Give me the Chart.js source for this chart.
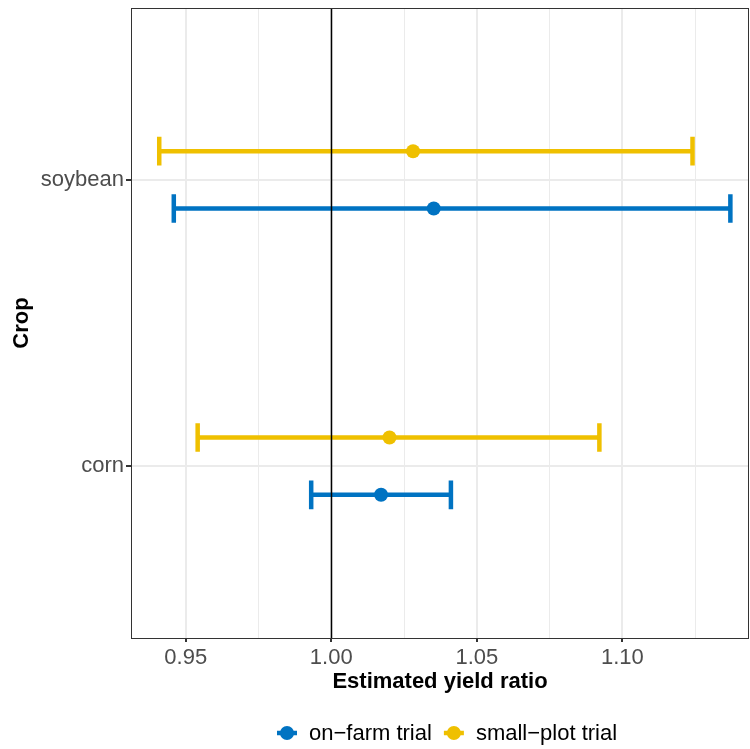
<!DOCTYPE html>
<html lang="en">
<head>
<meta charset="UTF-8" />
<title>Estimated yield ratio by crop</title>
<script src="https://cdn.jsdelivr.net/npm/chart.js"></script>
<style>
  body { margin: 0; background: #fff; }
  canvas { display: block; }
</style>
</head>
<body>
<canvas id="chart" width="750" height="749"></canvas>
<script>
  // data
  const crops = ['corn', 'soybean'];
  const trials = ['on\u2212farm trial', 'small\u2212plot trial'];
  const onFarmEst = [1.0171, 1.0352];
  const onFarmLo = [0.9931, 0.9459];
  const onFarmHi = [1.0411, 1.1371];
  const smallPlotEst = [1.0200, 1.0281];
  const smallPlotLo = [0.9541, 0.9409];
  const smallPlotHi = [1.0921, 1.1241];
  const xMajorTicks = [0.95, 1.00, 1.05, 1.10];
  const xMinorTicks = [0.975, 1.025, 1.075, 1.125];
  const refValue = 1;

  const colors = ['#0073C2', '#EFC000'];
  const dodge = [-0.1, 0.1];   // on-farm sits below, small-plot above
  const capHalf = 0.05;
  const fontFamily = '"Liberation Sans", Arial, Helvetica, sans-serif';

  function makeSet(i, est, lo, hi) {
    return {
      label: trials[i],
      data: crops.map((c, k) => ({ x: est[k], y: k + 1 + dodge[i], lo: lo[k], hi: hi[k] })),
      backgroundColor: colors[i],
      borderColor: colors[i],
      borderWidth: 0,
      pointRadius: 7,
      pointHoverRadius: 7
    };
  }

  const isMajor = v => xMajorTicks.some(m => Math.abs(m - v) < 1e-9);

  // no extra edge padding from tick labels, the panel edges are fixed
  function noPad(s) {
    s.paddingTop = 0; s.paddingBottom = 0;
    s.paddingLeft = 0; s.paddingRight = 0;
  }

  const extras = {
    id: 'extras',
    beforeDatasetsDraw(chart) {
      const { ctx, scales: { x, y } } = chart;
      ctx.save();
      ctx.lineWidth = 4.5;
      ctx.lineCap = 'butt';
      chart.data.datasets.forEach(ds => {
        ctx.strokeStyle = ds.borderColor;
        ds.data.forEach(p => {
          const py = y.getPixelForValue(p.y);
          const x0 = x.getPixelForValue(p.lo);
          const x1 = x.getPixelForValue(p.hi);
          const top = y.getPixelForValue(p.y + capHalf);
          const bot = y.getPixelForValue(p.y - capHalf);
          ctx.beginPath();
          ctx.moveTo(x0, py); ctx.lineTo(x1, py);
          ctx.moveTo(x0, top); ctx.lineTo(x0, bot);
          ctx.moveTo(x1, top); ctx.lineTo(x1, bot);
          ctx.stroke();
        });
      });
      ctx.restore();
    },
    afterDatasetsDraw(chart) {
      const { ctx, chartArea: a, scales: { x } } = chart;
      const px = Math.round(x.getPixelForValue(refValue)) + 0.5;
      ctx.save();
      ctx.strokeStyle = '#000';
      ctx.lineWidth = 1.5;
      ctx.beginPath();
      ctx.moveTo(px, a.top); ctx.lineTo(px, a.bottom);
      ctx.stroke();
      ctx.restore();
    },
    afterDraw(chart) {
      const { ctx, chartArea: a } = chart;
      ctx.save();
      // panel border
      ctx.strokeStyle = '#333333';
      ctx.lineWidth = 1;
      ctx.strokeRect(a.left + 0.5, a.top + 0.5, a.right - a.left - 1, a.bottom - a.top);

      // legend along the bottom
      ctx.font = '22px ' + fontFamily;
      ctx.textBaseline = 'middle';
      ctx.textAlign = 'left';
      let lx = 277;
      const ly = 733;
      chart.data.datasets.forEach(ds => {
        ctx.strokeStyle = ds.borderColor;
        ctx.fillStyle = ds.borderColor;
        ctx.lineWidth = 4.5;
        ctx.beginPath();
        ctx.moveTo(lx, ly); ctx.lineTo(lx + 20, ly);
        ctx.stroke();
        ctx.beginPath();
        ctx.arc(lx + 10, ly, 7, 0, Math.PI * 2);
        ctx.fill();
        ctx.fillStyle = '#000';
        ctx.fillText(ds.label, lx + 32, ly + 1);
        lx += 32 + ctx.measureText(ds.label).width + 12;
      });
      ctx.restore();
    }
  };

  new Chart(document.getElementById('chart'), {
    type: 'scatter',
    data: {
      datasets: [
        makeSet(0, onFarmEst, onFarmLo, onFarmHi),
        makeSet(1, smallPlotEst, smallPlotLo, smallPlotHi)
      ]
    },
    plugins: [extras],
    options: {
      responsive: false,
      devicePixelRatio: 1,
      animation: false,
      events: [],
      layout: {
        autoPadding: false,
        padding: { top: 8, right: 1, bottom: 49, left: 0 }
      },
      plugins: {
        legend: { display: false },
        tooltip: { enabled: false }
      },
      scales: {
        x: {
          type: 'linear',
          min: 0.9312,
          max: 1.1435,
          afterBuildTicks: s => {
            s.ticks = xMajorTicks.concat(xMinorTicks).sort((a, b) => a - b).map(v => ({ value: v }));
          },
          afterFit: s => { s.height = 62; noPad(s); },
          border: { display: false },
          grid: {
            color: '#EBEBEB',
            lineWidth: c => isMajor(c.tick.value) ? 2 : 1,
            tickColor: c => isMajor(c.tick.value) ? '#333333' : 'rgba(0,0,0,0)',
            tickLength: 4
          },
          ticks: {
            autoSkip: false,
            maxRotation: 0,
            padding: 3,
            color: '#4D4D4D',
            font: { family: fontFamily, size: 22 },
            callback: v => isMajor(v) ? v.toFixed(2) : ''
          },
          title: {
            display: true,
            text: 'Estimated yield ratio',
            color: '#000',
            padding: { top: 0, bottom: 5 },
            font: { family: fontFamily, size: 22, weight: 'bold' }
          }
        },
        y: {
          type: 'linear',
          min: 0.4,
          max: 2.6,
          afterBuildTicks: s => {
            s.ticks = crops.map((c, i) => ({ value: i + 1 }));
          },
          afterFit: s => { s.width = 131; noPad(s); },
          border: { display: false },
          grid: {
            color: '#EBEBEB',
            lineWidth: 2,
            tickColor: '#333333',
            tickLength: 5
          },
          ticks: {
            autoSkip: false,
            padding: 2,
            color: '#4D4D4D',
            font: { family: fontFamily, size: 22 },
            callback: v => crops[Math.round(v) - 1]
          },
          title: {
            display: true,
            text: 'Crop',
            color: '#000',
            padding: { top: 9, bottom: 0 },
            font: { family: fontFamily, size: 22, weight: 'bold' }
          }
        }
      }
    }
  });
</script>
</body>
</html>
